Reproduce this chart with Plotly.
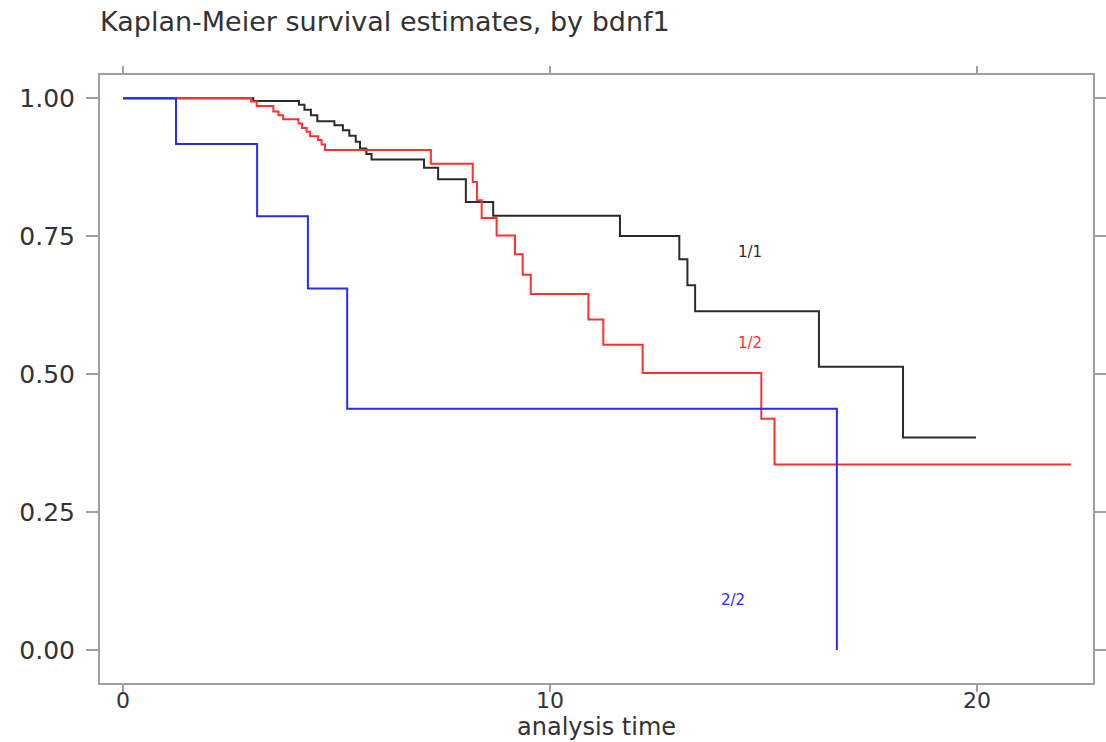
import plotly.graph_objects as go

# Kaplan-Meier step estimates
t_11 = [0, 3.05, 4.12, 4.25, 4.40, 4.55, 4.95, 5.15, 5.30, 5.45, 5.55, 5.70, 5.82,
        7.05, 7.38, 8.03, 8.67, 11.64, 13.03, 13.22, 13.40, 16.30, 18.27, 19.98]
s_11 = [1.0, 0.995, 0.988, 0.979, 0.969, 0.958, 0.951, 0.942, 0.932, 0.921, 0.909, 0.899, 0.889,
        0.874, 0.853, 0.812, 0.787, 0.750, 0.708, 0.661, 0.614, 0.513, 0.385, 0.385]

t_12 = [0, 3.00, 3.13, 3.52, 3.64, 3.75, 4.11, 4.19, 4.30, 4.38, 4.57, 4.65, 4.73,
        7.21, 8.19, 8.29, 8.40, 8.75, 9.18, 9.36, 9.55, 10.90, 11.25, 12.17, 14.95, 15.26, 22.2]
s_12 = [1.0, 0.994, 0.986, 0.976, 0.969, 0.962, 0.954, 0.946, 0.939, 0.931, 0.924, 0.916, 0.906,
        0.881, 0.848, 0.815, 0.783, 0.751, 0.717, 0.680, 0.645, 0.599, 0.553, 0.502, 0.419, 0.336, 0.336]

t_22 = [0, 1.24, 3.14, 4.33, 5.25, 16.72]
s_22 = [1.0, 0.917, 0.786, 0.655, 0.437, 0.0]

groups = ["1/1", "1/2", "2/2"]
colors = ["#2b2b2b", "#ff3030", "#2a2aff"]
label_pos = [(14.68, 0.721), (14.68, 0.556), (14.29, 0.091)]

x_ticks = [0, 10, 20]
y_ticks = [0, 0.25, 0.5, 0.75, 1.0]
y_ticktext = ["0.00", "0.25", "0.50", "0.75", "1.00"]

fig = go.Figure()
for (tt, ss), name, col in zip([(t_11, s_11), (t_12, s_12), (t_22, s_22)], groups, colors):
    fig.add_trace(go.Scatter(x=tt, y=ss, mode="lines", line=dict(color=col, width=2, shape="hv"),
                             name=name, showlegend=False))

for (lx, ly), name, col in zip(label_pos, groups, colors):
    fig.add_annotation(x=lx, y=ly, text=name, showarrow=False,
                       font=dict(family="DejaVu Sans", size=15, color=col))

# x-axis title placed just under the tick labels, at the bottom edge
fig.add_annotation(x=0.5, y=-59/608, xref="paper", yref="paper", text="analysis time",
                   showarrow=False, xanchor="center", yanchor="bottom", borderpad=0,
                   font=dict(family="DejaVu Sans", size=24, color="#333333"))

axis_common = dict(showline=True, linecolor="#a0a0a0", linewidth=2, mirror="allticks",
                   ticks="outside", tickcolor="#a0a0a0", tickwidth=2,
                   showgrid=False, zeroline=False, automargin=False)

fig.update_layout(
    width=1106, height=742,
    margin=dict(l=100, r=13, t=75, b=59),
    paper_bgcolor="white", plot_bgcolor="white",
    title=dict(text="Kaplan-Meier survival estimates, by bdnf1", x=100/1106, xanchor="left",
               y=1 - 22/742, yanchor="middle",
               font=dict(family="DejaVu Sans", size=27, color="#333333")),
    xaxis=dict(range=[-0.54, 22.72], tickvals=x_ticks, ticklen=7, ticklabelstandoff=-10,
               tickfont=dict(family="DejaVu Sans", size=22, color="#333333"), **axis_common),
    yaxis=dict(range=[-0.06, 1.042], tickvals=y_ticks, ticktext=y_ticktext, ticklen=12,
               ticklabelstandoff=6,
               tickfont=dict(family="DejaVu Sans", size=25, color="#333333"), **axis_common),
)

fig.write_html("out.html")
